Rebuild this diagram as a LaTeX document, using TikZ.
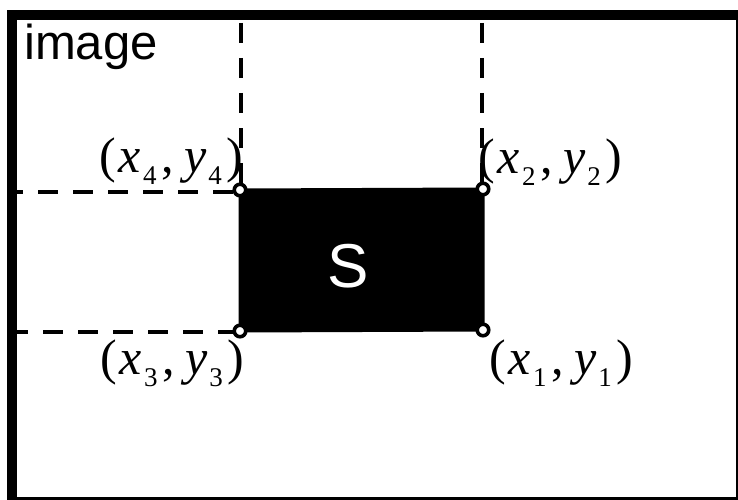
\documentclass[tikz,border=0pt]{standalone}
\usepackage{fontspec}
\setmainfont{Liberation Serif}
\newfontfamily\labelsans{Liberation Sans}
\newcommand\subn[1]{\kern2pt\raisebox{-12pt}{\fontsize{27}{27}\selectfont #1}}
\newcommand\ptlabel[1]{(\kern3pt\textit{x}\subn{#1}\kern5pt,\kern10pt\textit{y}\subn{#1}\kern5pt)}
\tikzset{
  guide/.style={line width=4pt, dash pattern=on 20pt off 15pt},
  corner/.style={circle, draw=black, fill=white, line width=3.6pt, minimum size=11.5pt, inner sep=0pt},
  coordlabel/.style={anchor=base west, inner sep=0pt, font=\fontsize{50}{50}\selectfont},
}
\begin{document}
\begin{tikzpicture}[x=1pt,y=-1pt]
\clip (0,0) rectangle (738,500);
\useasboundingbox (0,0) rectangle (738,500);
% region S
\coordinate (c4) at (240,190);
\coordinate (c2) at (483,189);
\coordinate (c3) at (240,331);
\coordinate (c1) at (483,330);
\draw[fill=black, line width=3pt] (c3) -- (c1) -- (c2) -- (c4) -- cycle;
\node[anchor=base, inner sep=0pt, text=white, font=\labelsans\fontsize{62}{62}\selectfont] (S) at (348,287) {S};
% guides
\coordinate (t4) at (241,-12);
\coordinate (t2) at (482,-12);
\coordinate (l4) at (3,192);
\coordinate (l3) at (8,332);
\begin{scope}
\clip (17,20) rectangle (738,500);
\draw[guide] (t4) -- (241,190);
\draw[guide] (t2) -- (482,189);
\draw[guide] (l4) -- (240,192);
\draw[guide] (l3) -- (240,332);
\end{scope}
% frame
\draw[line width=10pt] (12,15) rectangle (741,502);
% corner markers
\node[corner] (m4) at (c4) {};
\node[corner] (m2) at (c2) {};
\node[corner] (m3) at (c3) {};
\node[corner] (m1) at (c1) {};
% labels
\node[anchor=base west, inner sep=0pt, font=\labelsans\fontsize{49}{49}\selectfont] (img) at (24,60) {image};
\node[coordlabel] (L4) at (99,172) {\ptlabel{4}};
\node[coordlabel] (L2) at (478,173) {\ptlabel{2}};
\node[coordlabel] (L3) at (100,374) {\ptlabel{3}};
\node[coordlabel] (L1) at (489,374) {\ptlabel{1}};
\end{tikzpicture}
\end{document}
